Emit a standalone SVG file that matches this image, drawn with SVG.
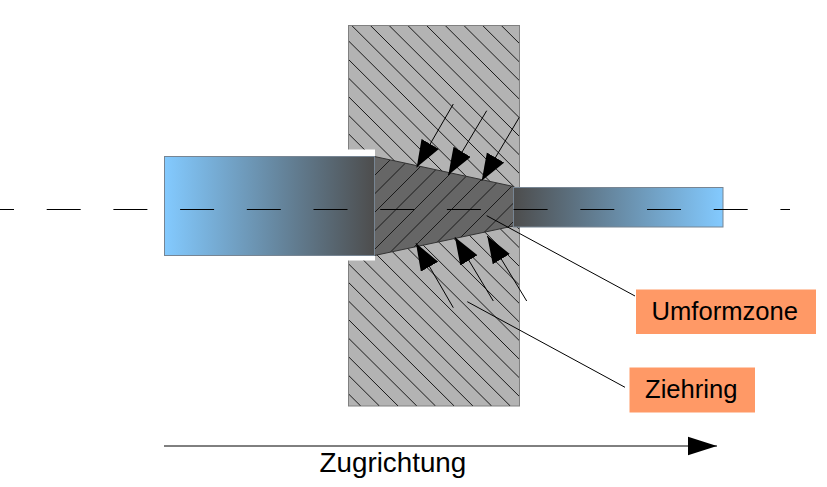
<svg xmlns="http://www.w3.org/2000/svg" width="827" height="487" viewBox="0 0 827 487">
<style>
.lbl{fill:#ff9966}
.t{font-family:"Liberation Sans",Arial,sans-serif;fill:#000}
.c{fill:none;stroke:#000;stroke-width:1}
.rod{stroke:#778593;stroke-width:1}
.hatch{fill:none;stroke:#1a1a1a;stroke-width:1}
</style>
<defs>
<linearGradient id="gl" x1="0" x2="1" y1="0" y2="0"><stop offset="0" stop-color="#83caff"/><stop offset="1" stop-color="#4d4d4d"/></linearGradient>
<linearGradient id="gr" x1="0" x2="1" y1="0" y2="0"><stop offset="0" stop-color="#4d4d4d"/><stop offset="1" stop-color="#83caff"/></linearGradient>
<clipPath id="clipDie"><rect x="349" y="26" width="170" height="380"/></clipPath>
<clipPath id="clipCone"><path d="M375 157L513.5 187V226L375 255Z"/></clipPath>
<marker id="a" markerUnits="userSpaceOnUse" markerWidth="28" markerHeight="21" refX="27" refY="10" orient="auto"><path d="M0 0L27 10L0 20Z" fill="#000"/></marker>
<marker id="b" markerUnits="userSpaceOnUse" markerWidth="30" markerHeight="21" refX="29.5" refY="10" orient="auto"><path d="M0 .5L29.5 10L0 19.5Z" fill="#000"/></marker>
</defs>
<g id="ziehring"><rect x="348.5" y="25.5" width="171" height="380.5" fill="#b3b3b3" stroke="#808080"/>
<g clip-path="url(#clipDie)"><path class="hatch" d="M500.8 25l383.5 381M482.1 25l383.5 381M463.4 25l383.5 381M444.7 25l383.5 381M426 25l383.5 381M407.3 25l383.5 381M388.6 25l383.5 381M369.9 25l383.5 381M351.2 25l383.5 381M332.5 25l383.5 381M313.8 25l383.5 381M295.1 25l383.5 381M276.4 25l383.5 381M257.7 25l383.5 381M239 25l383.5 381M220.3 25l383.5 381M201.6 25l383.5 381M182.9 25l383.5 381M164.2 25l383.5 381M145.5 25l383.5 381M126.8 25l383.5 381M108.1 25l383.5 381M89.4 25l383.5 381M70.7 25l383.5 381M52 25l383.5 381M33.3 25l383.5 381M14.6 25l383.5 381M-4.1 25l383.5 381M-22.8 25l383.5 381"/></g>
<rect x="348" y="149.5" width="27" height="6.5" fill="#fff"/><rect x="348" y="255.5" width="27" height="5" fill="#fff"/></g>
<g id="umformzone"><path d="M374.5 156.5L513.5 186.5V226L374.5 255.5Z" fill="#666666" stroke="#333" stroke-width="1"/>
<g clip-path="url(#clipCone)"><path class="hatch" d="M374 157.5l140 -140M374 176l140 -140M374 194.5l140 -140M374 213l140 -140M374 231.5l140 -140M374 250l140 -140M374 268.5l140 -140M374 287l140 -140M374 305.5l140 -140M374 324l140 -140M374 342.5l140 -140M374 361l140 -140"/></g></g>
<g id="stab-links"><rect class="rod" x="164.5" y="156.5" width="210" height="99" fill="url(#gl)"/></g>
<g id="stab-rechts"><rect class="rod" x="513.5" y="187.5" width="209.5" height="39.5" fill="url(#gr)"/></g>
<g id="connectors">
<path class="c" d="M-20 209.5H790" stroke-dasharray="34 32.7"/>
<path class="c" d="M453.3 104L416.7 167.3" marker-end="url(#a)"/>
<path class="c" d="M486.7 110.7L448.3 175" marker-end="url(#a)"/>
<path class="c" d="M519.3 117.3L481.7 180.7" marker-end="url(#a)"/>
<path class="c" d="M453.3 307.7L416 243.3" marker-end="url(#a)"/>
<path class="c" d="M493.3 301L455 237.3" marker-end="url(#a)"/>
<path class="c" d="M526.7 301L487.3 236" marker-end="url(#a)"/>
<path class="c" d="M486.7 215.7L635 296"/>
<path class="c" d="M467.3 301.7L625 387.3"/>
<path class="c" d="M164 446H717" marker-end="url(#b)"/>
</g>
<g id="label-umformzone"><rect class="lbl" x="636" y="289.5" width="180" height="44.5"/><text class="t" x="651.5" y="319.5" font-size="25.6">Umformzone</text></g>
<g id="label-ziehring"><rect class="lbl" x="629.5" y="367.5" width="125.5" height="45"/><text class="t" x="645" y="398" font-size="25.6">Ziehring</text></g>
<g id="label-zugrichtung"><text class="t" x="319.5" y="472" font-size="27.8">Zugrichtung</text></g>
</svg>
